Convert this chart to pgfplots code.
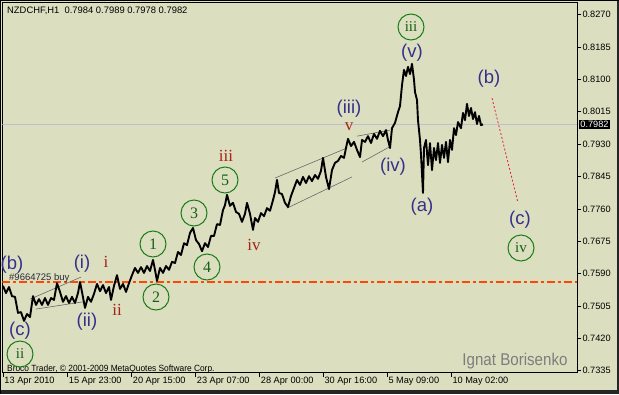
\documentclass[border=0pt]{standalone}
\usepackage{pgfplots}
\pgfplotsset{compat=1.18}
\usepackage{fontspec}
\setmainfont{Liberation Sans}
\newfontfamily\serif{Liberation Serif}
\definecolor{bg}{RGB}{220,223,191}
\definecolor{wblue}{RGB}{52,48,140}
\definecolor{wred}{RGB}{165,35,25}
\definecolor{cgreen}{RGB}{25,125,25}
\definecolor{tgreen}{RGB}{20,95,20}
\definecolor{orng}{RGB}{255,72,0}
\definecolor{curline}{RGB}{190,190,206}
\definecolor{chan}{RGB}{105,105,105}
\definecolor{wm}{RGB}{125,125,125}
\definecolor{dred}{RGB}{230,30,60}
\begin{document}
\begin{tikzpicture}[x=1pt,y=1pt]
\fill[bg] (0,0) rectangle (619,-394);
\useasboundingbox (0,0) rectangle (619,-394);
\begin{axis}[
  at={(2.5pt,-372.7pt)}, anchor=south west,
  scale only axis, width=574.8pt, height=370.2pt,
  xmin=2.5, xmax=577.3, ymin=0.73299, ymax=0.83020,
  axis line style={black, line width=0.8pt},
  tick style={black, line width=0.6pt},
  tick align=outside, major tick length=4pt,
  xtick pos=bottom, ytick pos=right, yticklabel pos=right,
  xtick={3.3,67.7,131.7,195.7,259.7,323.3,387.3,451.3},
  xticklabels={13 Apr 2010,15 Apr 23:00,20 Apr 15:00,23 Apr 07:00,28 Apr 00:00,30 Apr 16:00,5 May 09:00,10 May 02:00},
  ytick={0.7335,0.7420,0.7505,0.7590,0.7675,0.7760,0.7845,0.7930,0.8015,0.8100,0.8185,0.8270},
  yticklabels={0.7335,0.7420,0.7505,0.7590,0.7675,0.7760,0.7845,0.7930,0.8015,0.8100,0.8185,0.8270},
  xticklabel style={font=\fontsize{9.2}{10}\selectfont, anchor=north west, inner sep=0pt, xshift=1pt},
  yticklabel style={font=\fontsize{9.2}{10}\selectfont, anchor=west, inner sep=0pt, xshift=1pt},
  /pgf/number format/assume math mode=true,
]
\addplot[curline, line width=0.8pt] coordinates {(2.5,0.7982) (577.3,0.7982)};
\addplot[orng, line width=1.2pt, dash pattern=on 8pt off 3pt on 3pt off 3pt] coordinates {(2.5,0.7568) (577.3,0.7568)};
\addplot[chan, line width=0.6pt] coordinates {(30,0.7523) (81,0.7581)};
\addplot[chan, line width=0.6pt] coordinates {(36,0.7497) (83,0.7516)};
\addplot[chan, line width=0.6pt] coordinates {(275,0.7841) (347,0.7920)};
\addplot[chan, line width=0.6pt] coordinates {(287,0.7762) (352,0.7844)};
\addplot[chan, line width=0.6pt] coordinates {(357,0.7951) (390,0.7967)};
\addplot[chan, line width=0.6pt] coordinates {(362,0.7883) (391,0.7925)};
\addplot[black, line width=1.9pt, line join=round] coordinates {
(3,0.7558) (6,0.7539) (9,0.7555) (12,0.7531) (15,0.7529) (18,0.7487) (21,0.7489) (24,0.7466) (27,0.7484) (30,0.7476)
(33,0.7531) (36,0.7508) (39,0.7523) (42,0.7508) (45,0.7526) (48,0.7508) (51,0.7526) (54,0.7521) (57,0.7565) (60,0.7542)
(63,0.7516) (66,0.7531) (69,0.7513) (72,0.7529) (75,0.7513) (78,0.7539) (80,0.7568) (82,0.7542) (85,0.7500) (88,0.7529)
(91,0.7516) (94,0.7537) (97,0.7563) (100,0.7544) (103,0.7560) (106,0.7539) (109,0.7555) (111,0.7521) (114,0.7558) (117,0.7586)
(120,0.7550) (123,0.7563) (126,0.7542) (129,0.7565) (132,0.7586) (135,0.7605) (138,0.7592) (141,0.7607) (144,0.7592) (147,0.7610)
(150,0.7597) (153,0.7626) (155,0.7600) (157,0.7571) (160,0.7605) (163,0.7592) (166,0.7610) (169,0.7600) (172,0.7621) (175,0.7618)
(178,0.7647) (181,0.7639) (184,0.7670) (187,0.7665) (190,0.7697) (193,0.7710) (196,0.7678) (199,0.7668) (202,0.7649) (205,0.7670)
(208,0.7660) (211,0.7689) (214,0.7689) (217,0.7720) (220,0.7718) (223,0.7757) (225,0.7770) (227,0.7797) (230,0.7768) (233,0.7776)
(236,0.7752) (239,0.7747) (242,0.7726) (245,0.7747) (247,0.7776) (250,0.7747) (253,0.7705) (255,0.7736) (258,0.7726) (261,0.7749)
(264,0.7741) (267,0.7762) (270,0.7755) (273,0.7783) (275,0.7804) (277,0.7836) (279,0.7802) (282,0.7799) (285,0.7776) (288,0.7765)
(291,0.7794) (294,0.7815) (297,0.7836) (300,0.7823) (303,0.7844) (306,0.7828) (309,0.7846) (312,0.7833) (315,0.7849) (318,0.7839)
(321,0.7860) (323,0.7894) (326,0.7844) (329,0.7812) (332,0.7862) (335,0.7881) (338,0.7886) (341,0.7899) (344,0.7894) (346,0.7920)
(348,0.7944) (351,0.7925) (354,0.7936) (357,0.7915) (360,0.7896) (362,0.7941) (365,0.7936) (368,0.7951) (371,0.7933) (374,0.7957)
(377,0.7944) (380,0.7965) (383,0.7951) (386,0.7967) (388,0.7941) (390,0.7920) (392,0.7972) (395,0.7986) (398,0.8014) (400,0.8030)
(402,0.8085) (404,0.8125) (406,0.8109) (408,0.8133) (410,0.8114) (412,0.8141) (414,0.8099) (415,0.8067) (417,0.8046) (418,0.7993)
(420,0.7941) (421,0.7902) (423,0.7802) (424,0.7920) (426,0.7941) (428,0.7875) (430,0.7933) (432,0.7862) (434,0.7920) (436,0.7888)
(438,0.7933) (440,0.7881) (442,0.7928) (444,0.7894) (446,0.7936) (448,0.7883) (450,0.7941) (452,0.7915) (454,0.7972) (456,0.7954)
(458,0.7988) (461,0.7972) (463,0.8012) (465,0.7993) (467,0.8036) (469,0.8004) (471,0.8025) (473,0.7996) (475,0.8014) (477,0.7983)
(479,0.8004) (481,0.7980) (483,0.7982)};
\addplot[dred, line width=0.8pt, dash pattern=on 2pt off 2pt] coordinates {(492,0.8051) (518,0.7776)};
\end{axis}
% window border
\fill[black!85] (616.5,0) rectangle (619,-394);
\fill[black!85] (0,-390) rectangle (619,-394);
\draw[black, line width=0.6pt] (0,-0.3) -- (619,-0.3);
\draw[black, line width=0.6pt] (0.3,0) -- (0.3,-394);
% header and texts
\node[anchor=west, inner sep=0pt, font=\fontsize{9.4}{10}\selectfont] at (7,-11) {NZDCHF,H1\ \ 0.7984 0.7989 0.7978 0.7982};
\node[anchor=west, inner sep=0pt, font=\fontsize{9.5}{10}\selectfont, text={rgb,255:red,40;green,40;blue,60}] at (9,-278) {\#9664725 buy};
\node[anchor=west, inner sep=0pt, font=\fontsize{9}{10}\selectfont] at (7,-369) {\scalebox{0.93}[1]{Broco Trader, \textcopyright{} 2001-2009 MetaQuotes Software Corp.}};
\node[text=wm, inner sep=0pt, font=\fontsize{17}{18}\selectfont] at (515,-361) {\scalebox{0.89}[1]{Ignat Borisenko}};
\node[fill=black, text=white, inner sep=1.2pt, anchor=west, font=\fontsize{9.2}{10}\selectfont] at (579,-124.4) {0.7982};
% blue wave labels
\begin{scope}[every node/.style={text=wblue, inner sep=0pt, font=\fontsize{18.5}{19}\selectfont}]
\node at (12,-265) {(b)};
\node at (82,-264) {(i)};
\node at (87,-322) {(ii)};
\node at (20,-331) {(c)};
\node at (349,-109) {(iii)};
\node at (393,-167) {(iv)};
\node at (412,-53) {(v)};
\node at (489,-79) {(b)};
\node at (422,-207) {(a)};
\node at (520,-220) {(c)};
\end{scope}
% red roman labels
\begin{scope}[every node/.style={text=wred, inner sep=0pt, font=\serif\fontsize{17}{18}\selectfont}]
\node at (226,-156) {iii};
\node at (106,-262) {i};
\node at (117,-310) {ii};
\node at (254,-245) {iv};
\node at (349,-127) {v};
\end{scope}
% circled labels
\begin{scope}[every node/.style={circle, draw=cgreen, line width=1pt, minimum size=26pt, inner sep=0pt, text=tgreen}]
\node[font=\serif\fontsize{15}{16}\selectfont] at (20,-354) {ii};
\node[font=\serif\fontsize{16}{17}\selectfont] at (153,-244) {1};
\node[font=\serif\fontsize{16}{17}\selectfont] at (156,-297) {2};
\node[font=\serif\fontsize{16}{17}\selectfont] at (194,-213) {3};
\node[font=\serif\fontsize{16}{17}\selectfont] at (207,-267) {4};
\node[font=\serif\fontsize{16}{17}\selectfont] at (225,-180) {5};
\node[font=\serif\fontsize{15}{16}\selectfont] at (411,-27) {iii};
\node[font=\serif\fontsize{15}{16}\selectfont] at (521,-248) {iv};
\end{scope}
\end{tikzpicture}
\end{document}
